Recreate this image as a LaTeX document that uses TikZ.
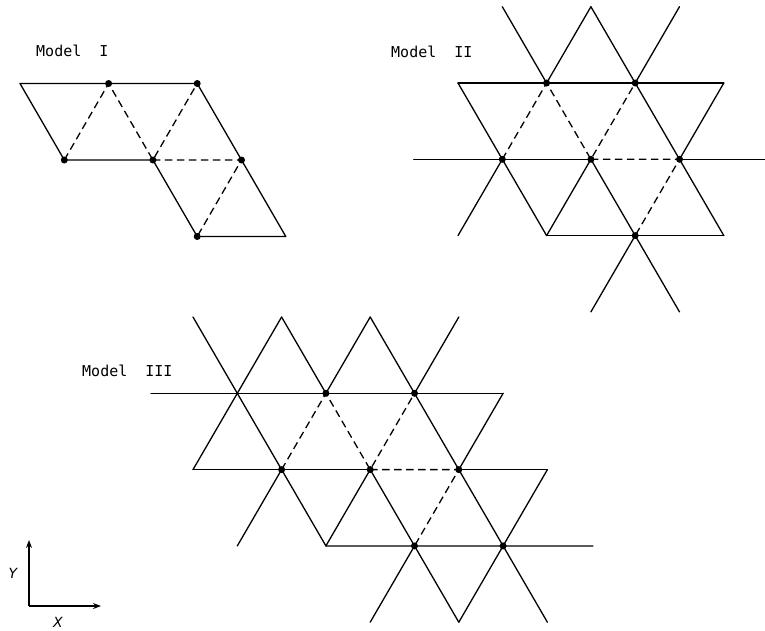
\documentclass[tikz,border=0pt]{standalone}
\usepackage{fontspec}
\usetikzlibrary{arrows.meta}
\newfontfamily\labfont{DejaVu Sans Mono}
\newfontfamily\axfont{DejaVu Sans}
\begin{document}
\begin{tikzpicture}[x=1pt,y=-1pt,
  lat/.style={line width=1.3pt, line cap=round, line join=round},
  dsh/.style={line width=1.3pt, dash pattern=on 7.5pt off 4.5pt},
  dotnode/.style={circle, fill=black, inner sep=0pt, minimum size=7pt},
  lbl/.style={font=\labfont\fontsize{15}{17}\selectfont, anchor=west, inner sep=0pt},
  axlbl/.style={font=\axfont\itshape\fontsize{14}{16}\selectfont, inner sep=0pt},
  axis/.style={line width=1.3pt, -{Stealth[length=8pt,width=6pt]}}]
\useasboundingbox (0,0) rectangle (765,630);

% lattice points: x = x0 + i*a + j*a/2, y = y0 + j*h
\foreach \i in {-1,...,4}{
  \foreach \j in {-1,...,3}{
    \coordinate (P\i j\j) at ({20+\i*88.6+\j*44.3},{83.5+\j*76.5});
    \coordinate (Q\i j\j) at ({458+\i*88.6+\j*44.3},{83+\j*76.3});
    \coordinate (R\i j\j) at ({237.3+\i*88.6+\j*44.3},{393.3+\j*76.3});
  }
}
\coordinate (QE) at (765,159.3);
\coordinate (RW) at (151,393.3);
\coordinate (RE) at (593,545.9);

% ---------- Model I ----------
\node[lbl] (t1) at (36,51) {Model\ \ I};
\draw[lat] (P0j1) -- (P0j0) -- (P2j0) -- (P2j2) -- (P1j2) -- (P1j1) -- (P0j1);
\draw[dsh] (P0j1) -- (P1j0) -- (P1j1) -- (P2j0);
\draw[dsh] (P1j1) -- (P2j1) -- (P1j2);
\foreach \p [count=\k] in {P1j0,P2j0,P0j1,P1j1,P2j1,P1j2}
  \node[dotnode] (pd\k) at (\p) {};

% ---------- Model II ----------
\node[lbl] (t2) at (391,52) {Model\ \ II};
\draw[lat] (Q0j0) -- (Q3j0);
\draw[lat] (Q-1j1) -- (Q1j1);
\draw[lat] (Q2j1) -- (QE);
\draw[lat] (Q0j2) -- (Q2j2);
\draw[lat] (Q1j-1) -- (Q1j0);
\draw[lat] (Q1j1) -- (Q1j3);
\draw[lat] (Q0j0) -- (Q0j2);
\draw[lat] (Q2j-1) -- (Q2j2);
\draw[lat] (Q2j-1) -- (Q1j0);
\draw[lat] (Q0j1) -- (Q-1j2);
\draw[lat] (Q3j-1) -- (Q2j0);
\draw[lat] (Q1j1) -- (Q0j2);
\draw[lat] (Q3j0) -- (Q2j1);
\draw[lat] (Q1j2) -- (Q0j3);
\draw[dsh] (Q0j1) -- (Q1j0) -- (Q1j1) -- (Q2j0);
\draw[dsh] (Q1j1) -- (Q2j1) -- (Q1j2);
\foreach \p [count=\k] in {Q1j0,Q2j0,Q0j1,Q1j1,Q2j1,Q1j2}
  \node[dotnode] (qd\k) at (\p) {};

% ---------- Model III ----------
\node[lbl] (t3) at (82,371) {Model\ \ III};
\draw[lat] (RW) -- (R3j0);
\draw[lat] (R-1j1) -- (R1j1);
\draw[lat] (R2j1) -- (R3j1);
\draw[lat] (R0j2) -- (RE);
\draw[lat] (R0j-1) -- (R0j2);
\draw[lat] (R1j-1) -- (R1j0);
\draw[lat] (R1j1) -- (R1j3);
\draw[lat] (R2j-1) -- (R2j3);
\draw[lat] (R1j-1) -- (R-1j1);
\draw[lat] (R2j-1) -- (R1j0);
\draw[lat] (R0j1) -- (R-1j2);
\draw[lat] (R3j-1) -- (R2j0);
\draw[lat] (R1j1) -- (R0j2);
\draw[lat] (R3j0) -- (R2j1);
\draw[lat] (R1j2) -- (R0j3);
\draw[lat] (R3j1) -- (R1j3);
\draw[dsh] (R0j1) -- (R1j0) -- (R1j1) -- (R2j0);
\draw[dsh] (R1j1) -- (R2j1) -- (R1j2);
\foreach \p [count=\k] in {R1j0,R2j0,R0j1,R1j1,R2j1,R1j2,R2j2}
  \node[dotnode] (rd\k) at (\p) {};

% ---------- axes ----------
\coordinate (O) at (29,606);
\coordinate (Ytip) at (29,540);
\coordinate (Xtip) at (101,606);
\draw[axis] (O) -- (Ytip);
\draw[axis] (O) -- (Xtip);
\node[axlbl] (ylab) at (13,573) {Y};
\node[axlbl] (xlab) at (58,622) {X};
\end{tikzpicture}
\end{document}
